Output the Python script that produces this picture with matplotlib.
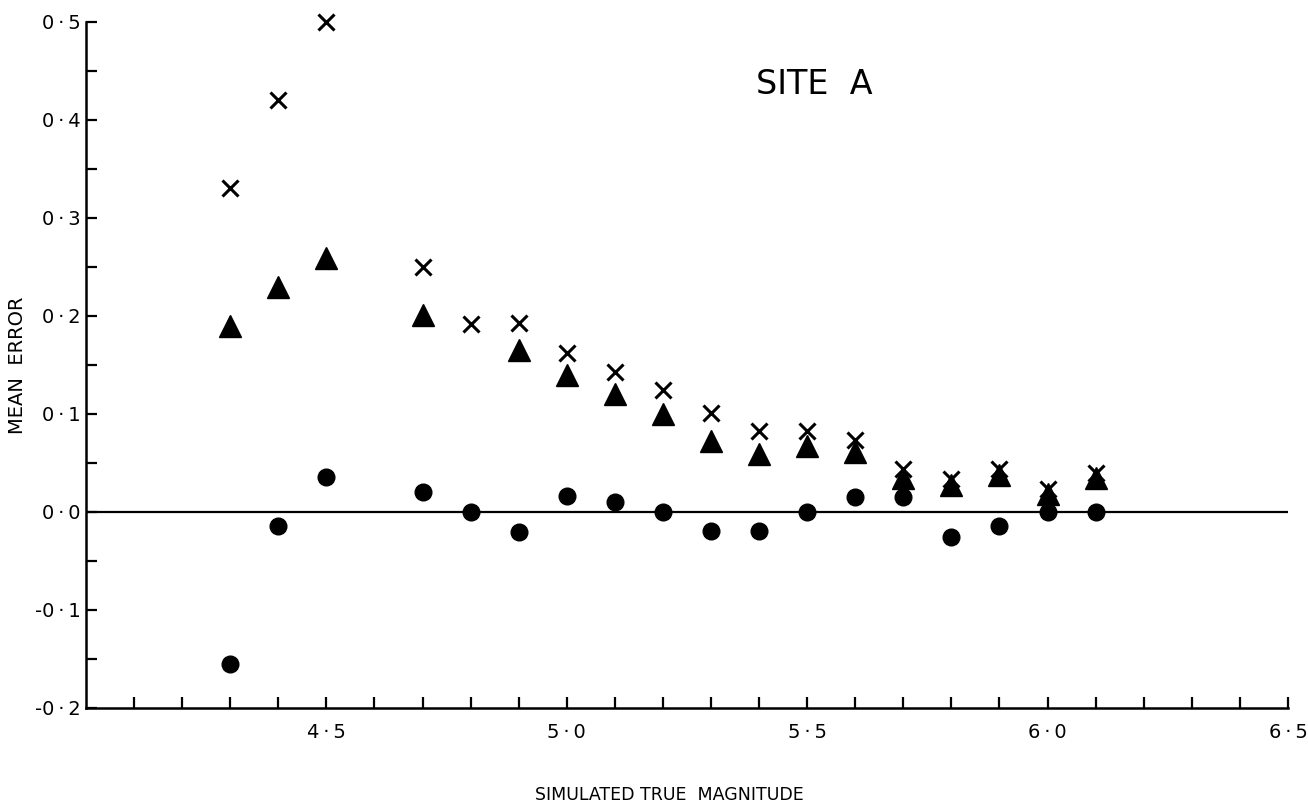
import numpy as np
import matplotlib
matplotlib.use("Agg")
import matplotlib.pyplot as plt

# values (site A)
mag_cross = [4.3, 4.4, 4.5, 4.7, 4.8, 4.9, 5.0, 5.1, 5.2, 5.3, 5.4, 5.5, 5.6, 5.7, 5.8, 5.9, 6.0, 6.1]
err_cross = [0.33, 0.42, 0.50, 0.25, 0.192, 0.193, 0.162, 0.143, 0.124, 0.101, 0.083, 0.083, 0.073, 0.044, 0.034, 0.044, 0.023, 0.040]

mag_tri = [4.3, 4.4, 4.5, 4.7, 4.9, 5.0, 5.1, 5.2, 5.3, 5.4, 5.5, 5.6, 5.7, 5.8, 5.9, 6.0, 6.1]
err_tri = [0.19, 0.229, 0.259, 0.201, 0.165, 0.14, 0.12, 0.10, 0.072, 0.059, 0.067, 0.061, 0.035, 0.027, 0.038, 0.018, 0.035]

mag_dot = [4.3, 4.4, 4.5, 4.7, 4.8, 4.9, 5.0, 5.1, 5.2, 5.3, 5.4, 5.5, 5.6, 5.7, 5.8, 5.9, 6.0, 6.1]
err_dot = [-0.155, -0.014, 0.036, 0.020, 0.0, -0.02, 0.016, 0.010, 0.0, -0.019, -0.019, 0.0, 0.015, 0.015, -0.026, -0.014, 0.0, 0.0]

xticks = [4.1, 4.2, 4.3, 4.4, 4.5, 4.6, 4.7, 4.8, 4.9, 5.0, 5.1, 5.2, 5.3, 5.4, 5.5, 5.6, 5.7, 5.8, 5.9, 6.0, 6.1, 6.2, 6.3, 6.4, 6.5]
xlabeled = [4.5, 5.0, 5.5, 6.0, 6.5]
yticks = [-0.2, -0.15, -0.1, -0.05, 0.0, 0.05, 0.1, 0.15, 0.2, 0.25, 0.3, 0.35, 0.4, 0.45, 0.5]


def dotfmt(v):
    # old-style decimal point, with a little air around it
    return f"{v:.1f}".replace('.', '\u2009\u00b7\u2009')


fig = plt.figure(figsize=(13.08, 8.10), dpi=100)
ax = fig.add_axes([0.0657, 0.126, 0.919, 0.847])

ax.axhline(0, color='black', lw=1.6, zorder=1)

ax.plot(mag_cross, err_cross, ls='none', marker='x', ms=11, mew=2.2, color='black', clip_on=False, zorder=3)
ax.plot(mag_tri, err_tri, ls='none', marker='^', ms=15.5, color='black', clip_on=False, zorder=3)
ax.plot(mag_dot, err_dot, ls='none', marker='o', ms=12, color='black', clip_on=False, zorder=3)

ax.set_xlim(4.0, 6.5)
ax.set_ylim(-0.2, 0.5)

ax.spines['top'].set_visible(False)
ax.spines['right'].set_visible(False)
ax.spines['left'].set_linewidth(1.8)
ax.spines['bottom'].set_linewidth(1.8)

ax.set_xticks(xticks)
ax.set_xticklabels([dotfmt(t) if any(abs(t - l) < 1e-6 for l in xlabeled) else '' for t in xticks])
ax.set_yticks(yticks)
ax.set_yticklabels([dotfmt(t) if abs(round(t * 10) - t * 10) < 1e-6 else '' for t in yticks])

ax.tick_params(axis='x', direction='in', length=8, width=1.6, pad=11, labelsize=14)
ax.tick_params(axis='y', direction='in', length=8, width=1.6, pad=4, labelsize=14)

ax.set_xlabel('SIMULATED TRUE  MAGNITUDE', fontsize=12.5, va='center')
ax.xaxis.set_label_coords(0.485, -0.127)
ax.set_ylabel('MEAN  ERROR', fontsize=14, va='center')
ax.yaxis.set_label_coords(-0.057, 0.5)

ax.text(0.606, 0.908, 'SITE  A', transform=ax.transAxes, fontsize=24, ha='center', va='center')

fig.savefig('out.png', dpi=100)
